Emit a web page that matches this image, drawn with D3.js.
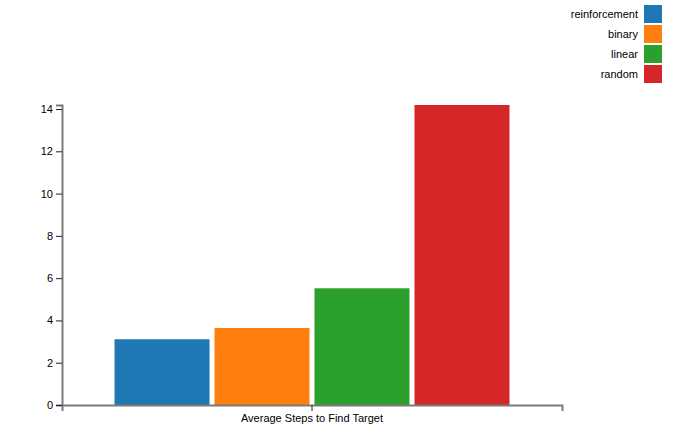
<!DOCTYPE html>
<html>
<head>
<meta charset="utf-8">
<style>
  body { margin: 0; background: #fff; }
  svg { font-family: "Liberation Sans", Arial, sans-serif; }
  .axis .domain { stroke: #7a7a7a; stroke-width: 2px; }
  .axis .tick line { stroke: #222; }
  .axis text { font-size: 11px; fill: #000; }
  .legend text { font-size: 11px; fill: #000; }
</style>
</head>
<body>
<svg width="684" height="446"></svg>
<script src="https://cdnjs.cloudflare.com/ajax/libs/d3/7.8.5/d3.min.js"></script>
<script>
var groups = ["Average Steps to Find Target"];
var methods = ["reinforcement", "binary", "linear", "random"];
var steps = [3.11, 3.64, 5.52, 14.19];
var colors = ["#1f77b4", "#ff7f0e", "#2ca02c", "#d62728"];
var yTicks = [0, 2, 4, 6, 8, 10, 12, 14];

var svg = d3.select("svg");
var width = 500, height = 300;
var chart = svg.append('g').attr('transform', 'translate(62, 105)');

var x0 = d3.scaleBand().domain(groups).range([0, width]).padding(0.105);
var x1 = d3.scaleBand().domain(methods).range([0, x0.bandwidth()]).padding(0.05);
var y = d3.scaleLinear().domain([0, d3.max(steps)]).range([height, 0]);
var color = d3.scaleOrdinal().domain(methods).range(colors);

chart.append('g').selectAll('g')
  .data(groups)
  .enter().append('g')
  .attr('transform', function(d) { return 'translate(' + x0(d) + ',0)'; })
  .selectAll('rect')
  .data(methods.map(function(m, i) { return { key: m, value: steps[i] }; }))
  .enter().append('rect')
  .attr('x', function(d) { return x1(d.key); })
  .attr('y', function(d) { return y(d.value); })
  .attr('width', x1.bandwidth())
  .attr('height', function(d) { return height - y(d.value); })
  .attr('fill', function(d) { return color(d.key); });

chart.append('g').attr('class', 'x axis')
  .attr('transform', 'translate(0,' + height + ')')
  .call(d3.axisBottom(x0));

chart.append('g').attr('class', 'y axis')
  .call(d3.axisLeft(y).tickValues(yTicks));

var legend = svg.append('g').attr('class', 'legend')
  .attr('text-anchor', 'end')
  .selectAll('g')
  .data(methods)
  .enter().append('g')
  .attr('transform', function(d, i) { return 'translate(0,' + (5 + i * 20) + ')'; });

legend.append('rect')
  .attr('x', 644)
  .attr('width', 18)
  .attr('height', 18)
  .attr('fill', function(d) { return color(d); });

legend.append('text')
  .attr('x', 638)
  .attr('y', 9.5)
  .attr('dy', '0.32em')
  .text(function(d) { return d; });
</script>
</body>
</html>
